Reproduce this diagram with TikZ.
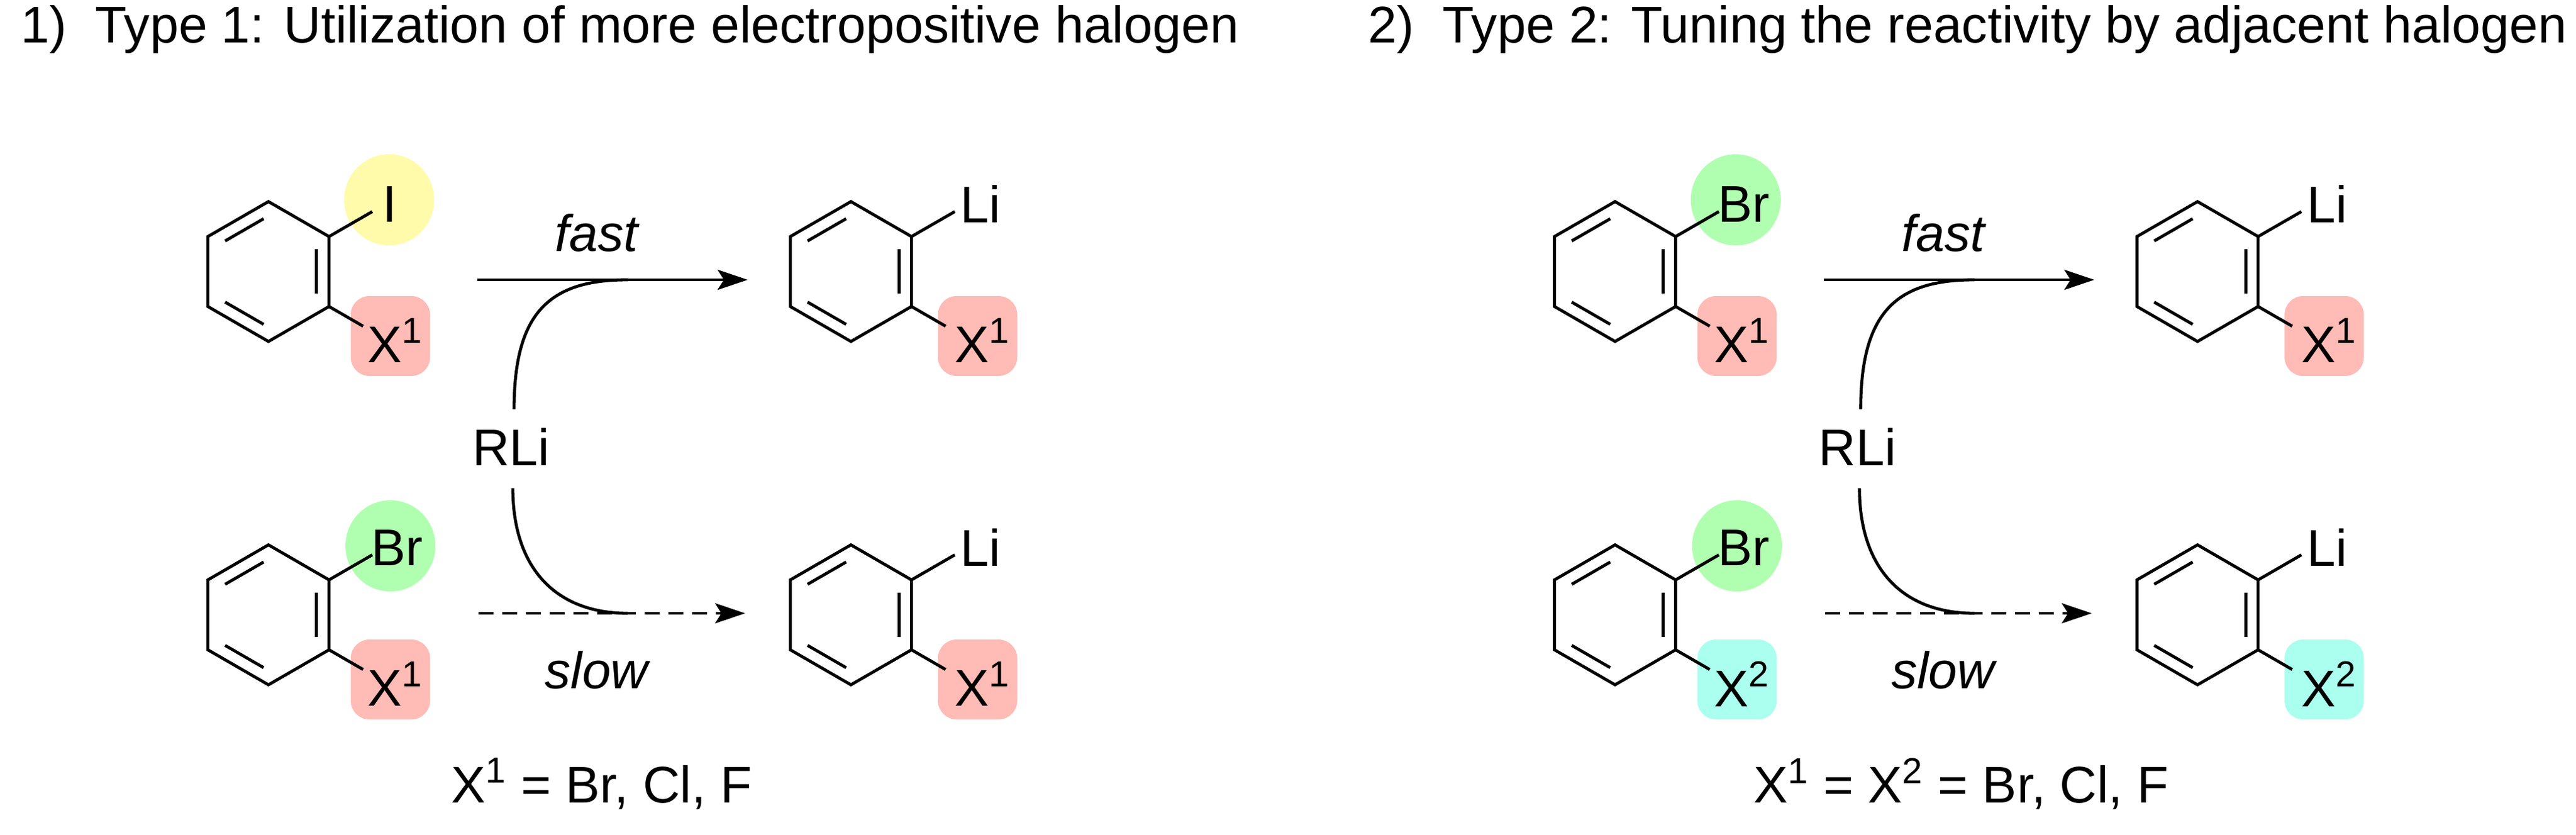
\documentclass[tikz,border=0pt]{standalone}
\usepackage{fontspec}
\setmainfont{Liberation Sans}
\usetikzlibrary{arrows.meta,calc}
\definecolor{yel}{HTML}{FFFBAA}
\definecolor{grn}{HTML}{B0FFB0}
\definecolor{pnk}{HTML}{FFBBB5}
\definecolor{cyn}{HTML}{AAFFEE}
\tikzset{
  bond/.style={line width=0.048cm, line join=miter},
  lab/.style={font=\fontsize{23.5pt}{28pt}\selectfont, inner sep=0pt},
  halo/.style={ellipse, minimum width=1.44cm, minimum height=1.46cm, inner sep=0pt},
  tag/.style={rounded corners=0.3cm, minimum width=1.27cm, minimum height=1.28cm, inner sep=0pt},
  rxn/.style={line width=0.048cm, -{Stealth[length=0.48cm,width=0.32cm,inset=0.1cm]}},
  dsh/.style={dash pattern=on 0.24cm off 0.14cm},
  curv/.style={line width=0.048cm},
}
\usetikzlibrary{shapes.geometric}
\newcommand\mybenz[3]{%
\begin{scope}[shift={(#2*0.01,-#3*0.01)}]
 \foreach \a/\n in {90/t,30/ur,-30/lr,-90/b,-150/ll,150/ul} \coordinate (#1\n) at (\a:1.12);
 \draw[bond] (#1t)--(#1ur)--(#1lr)--(#1b)--(#1ll)--(#1ul)--cycle;
 \foreach \p/\q in {150/90,30/-30,-90/-150}
   \draw[bond] ($(\p:0.89)!0.1!(\q:0.89)$) -- ($(\p:0.89)!0.9!(\q:0.89)$);
 \draw[bond] (#1ur) -- ++(30:0.8);
 \draw[bond] (#1lr) -- ++(-30:0.63);
\end{scope}}
\newcommand\panel[7]{% #1 prefix, #2 xshift(px), #3 top halo colour, #4 top halo text, #5 bottom tag col, #6 bottom tag text, #7 x of top halo text
\begin{scope}[shift={(#2*0.01,0)}]
 \node[halo, fill=#3] (#1h1) at (6.23,-3.20) {};
 \node[halo, fill=grn] (#1h2) at (6.25,-8.74) {};
 \node[tag, fill=pnk] (#1g1) at (6.25,-5.38) {};
 \node[tag, fill=#5] (#1g2) at (6.25,-10.88) {};
 \node[tag, fill=pnk] (#1g3) at (15.65,-5.38) {};
 \node[tag, fill=#5] (#1g4) at (15.65,-10.88) {};
 \mybenz{#1a}{430}{435}
 \mybenz{#1b}{430}{985}
 \mybenz{#1c}{1363}{435}
 \mybenz{#1d}{1363}{985}
 \node[lab] (#1t1) at (#7,-3.27) {#4};
 \node[lab] (#1t2) at (6.36,-8.77) {Br};
 \node[lab] (#1t3) at (6.33,-5.45) {X\textsuperscript{1}};
 \node[lab] (#1t4) at (6.33,-10.95) {#6};
 \node[lab] (#1t5) at (15.70,-3.27) {Li};
 \node[lab] (#1t6) at (15.70,-8.77) {Li};
 \node[lab] (#1t7) at (15.73,-5.45) {X\textsuperscript{1}};
 \node[lab] (#1t8) at (15.73,-10.95) {#6};
 \node[lab] (#1rli) at (8.18,-7.16) {RLi};
 \coordinate (#1s1) at (7.64,-4.48);
 \coordinate (#1e1) at (11.97,-4.48);
 \coordinate (#1s2) at (7.66,-9.82);
 \coordinate (#1e2) at (11.93,-9.82);
 \coordinate (#1m1) at (10.05,-4.48);
 \coordinate (#1m2) at (10.05,-9.82);
 \draw[rxn] (#1s1) -- (#1e1);
 \draw[rxn, dsh] (#1s2) -- (#1e2);
 \draw[curv] ($(#1rli.north)+(0.05,0.3)$) .. controls (8.23,-5.0) and (8.8,-4.48) .. (#1m1);
 \draw[curv] ($(#1rli.south)+(0.03,-0.35)$) .. controls (8.21,-9.1) and (8.9,-9.82) .. (#1m2);
 \node[lab, font=\fontsize{23.5pt}{28pt}\selectfont\itshape] (#1fast) at (9.55,-3.73) {fast};
 \node[lab, font=\fontsize{23.5pt}{28pt}\selectfont\itshape] (#1slow) at (9.55,-10.73) {slow};
\end{scope}}
\begin{document}
\begin{tikzpicture}
\useasboundingbox (0,0) rectangle (41.24,-13.36);
\node[lab, anchor=base west] (title1) at (0.33,-0.68) {1)\ \ Type 1: Utilization of more electropositive halogen};
\node[lab, anchor=base west] (title2) at (21.90,-0.68) {2)\ \ Type 2: Tuning the reactivity by adjacent halogen};
\panel{L}{0}{yel}{I}{pnk}{X\textsuperscript{1}}{6.24}
\panel{R}{2157}{grn}{Br}{cyn}{X\textsuperscript{2}}{6.36}
\node[lab] (note1) at (9.63,-12.55) {X\textsuperscript{1} = Br, Cl, F};
\node[lab] (note2) at (31.40,-12.55) {X\textsuperscript{1} = X\textsuperscript{2} = Br, Cl, F};
\end{tikzpicture}
\end{document}
